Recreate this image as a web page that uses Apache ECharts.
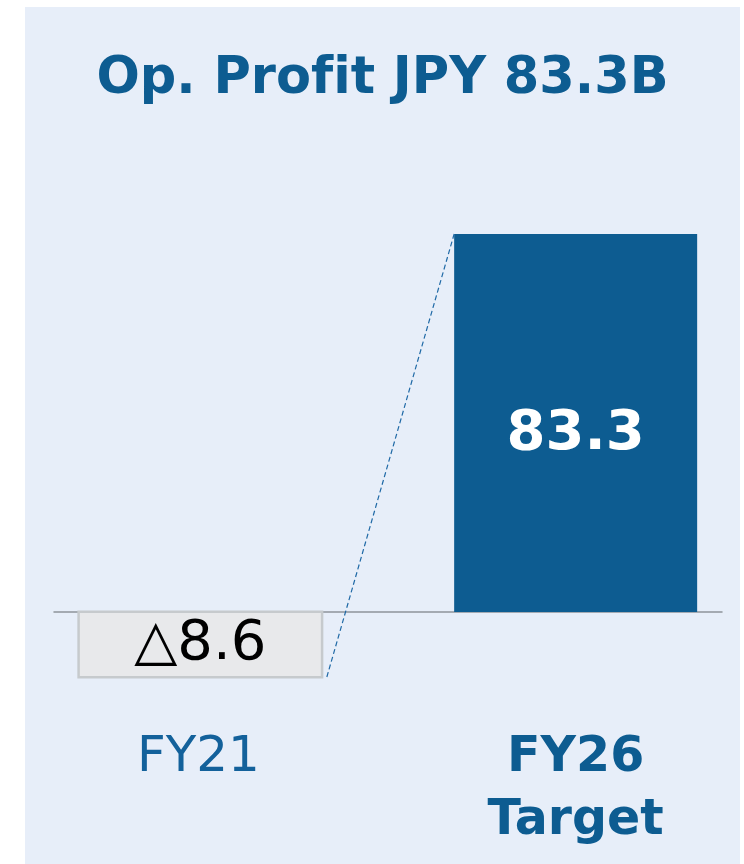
<!DOCTYPE html>
<html>
<head>
<meta charset="utf-8">
<script src="https://cdn.jsdelivr.net/npm/echarts@6/dist/echarts.min.js"></script>
<style>
  html, body { margin: 0; padding: 0; background: #ffffff; }
  #wrap { position: relative; width: 744px; height: 864px; overflow: hidden; }
  #chart { position: absolute; left: 25px; top: 7px; width: 715px; height: 857px; background: #E7EEF9; }
</style>
</head>
<body>
<div id="wrap"><div id="chart"></div></div>
<script>
const categories = ['FY21', 'FY26'];
const tickLabels = ['FY21', 'FY26\nTarget'];
const values = [-8.6, 83.3];
const valueLabels = ['△8.6', '83.3'];
const titleText = 'Op. Prof\u200Cit JPY 83.3B';

const FONT = 'DejaVu Sans';
const BLUE = '#0D5C91';
const BAR_W = 243;
const GAP = -0.83;
const BOX_H = 65;
const halfShift = (BAR_W * (2 + GAP)) / 2 - BAR_W / 2; // centre offset of each bar from band centre

const chart = echarts.init(document.getElementById('chart'), null, { renderer: 'canvas' });

const option = {
  backgroundColor: 'transparent',
  animation: false,
  title: {
    text: titleText,
    left: 'center',
    top: 42,
    textStyle: { fontFamily: FONT, fontSize: 51, fontWeight: 'bold', color: BLUE }
  },
  grid: { left: 29, right: 18, top: 151.2, bottom: 70.5, containLabel: false, outerBoundsMode: 'none' },
  xAxis: {
    type: 'category',
    data: categories,
    axisLine: { show: true, onZero: true, lineStyle: { color: '#8E949A', width: 1.5 } },
    axisTick: { show: false },
    splitLine: { show: false },
    axisLabel: {
      margin: -67,
      interval: 0,
      formatter: function (v, i) {
        const t = tickLabels[i];
        if (i === 0) return '{a|' + t + '}';
        return t.split('\n').map(s => '{b|' + s + '}').join('\n');
      },
      rich: {
        a: { fontFamily: FONT, fontSize: 50, color: '#13619B', lineHeight: 63, padding: [0, 2 * halfShift + 4, 0, 0] },
        b: { fontFamily: FONT, fontSize: 49, fontWeight: 'bold', color: BLUE, lineHeight: 63, padding: [0, 0, 0, 2 * halfShift] }
      }
    }
  },
  yAxis: {
    type: 'value',
    min: -40,
    max: 100,
    show: false,
    splitLine: { show: false }
  },
  series: [
    {
      type: 'bar',
      name: categories[0],
      barWidth: BAR_W,
      barGap: (GAP * 100) + '%',
      data: [values[0], '-'],
      itemStyle: { color: '#E8E9EB', borderColor: '#C6CACD', borderWidth: 2 },
      label: {
        show: true,
        position: 'inside',
        offset: [0, 13],
        formatter: () => valueLabels[0],
        fontFamily: FONT,
        fontSize: 56,
        color: '#000000',
        backgroundColor: '#E8E9EB',
        borderColor: '#C6CACD',
        borderWidth: 2.5,
        width: 241,
        height: 51,
        lineHeight: 51,
        padding: [12, 0, 0, 0],
        align: 'center',
        verticalAlign: 'middle'
      },
      z: 3
    },
    {
      type: 'bar',
      name: categories[1],
      barWidth: BAR_W,
      data: ['-', values[1]],
      itemStyle: { color: BLUE },
      label: {
        show: true,
        position: 'inside',
        offset: [0, 11],
        formatter: () => valueLabels[1],
        fontFamily: FONT,
        fontSize: 56,
        fontWeight: 'bold',
        color: '#ffffff'
      },
      z: 3
    },
    {
      type: 'custom',
      name: 'link',
      data: [[0, values[0], 1, values[1]]],
      encode: { x: 0, y: 1 },
      z: 4,
      silent: true,
      renderItem: function (params, api) {
        const zero = api.coord([api.value(0), 0]);
        const from = api.coord([api.value(0), api.value(1)]);
        const to = api.coord([api.value(2), api.value(3)]);
        const x1 = from[0] - halfShift + BAR_W / 2 + 5;
        const y1 = Math.max(from[1], zero[1] + BOX_H);
        const x2 = to[0] + halfShift - BAR_W / 2;
        const y2 = to[1];
        return {
          type: 'line',
          shape: { x1: x1, y1: y1, x2: x2, y2: y2 },
          style: { stroke: '#1F69A6', lineWidth: 1.2, lineDash: [5, 3] }
        };
      }
    }
  ]
};

chart.setOption(option);
</script>
</body>
</html>
